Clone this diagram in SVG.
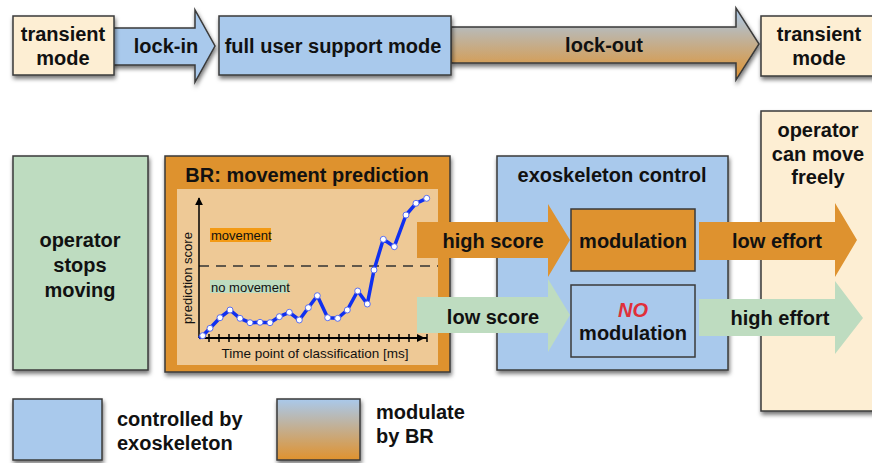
<svg xmlns="http://www.w3.org/2000/svg" width="872" height="463" viewBox="0 0 872 463">
<defs>
<filter id="sh" x="-10%" y="-10%" width="130%" height="130%">
<feDropShadow dx="1" dy="3" stdDeviation="2" flood-color="#000" flood-opacity="0.55"/>
</filter>
<linearGradient id="gr" x1="0" y1="0" x2="0" y2="1">
<stop offset="0" stop-color="#A9C9EC"/>
<stop offset="1" stop-color="#E0922E"/>
</linearGradient>
<marker id="ah" viewBox="0 0 10 10" refX="9" refY="5" markerWidth="8" markerHeight="8" markerUnits="userSpaceOnUse" orient="auto">
<path d="M0,0 L10,5 L0,10 Z" fill="#000"/>
</marker>
</defs>
<style>
text{font-family:"Liberation Sans",Arial,sans-serif;fill:#111}
.b{font-weight:bold;font-size:20px;text-anchor:middle}
.lg{font-weight:bold;font-size:20px}
.box{stroke:#3a3a3a;stroke-width:1.5}
.cream{fill:#FDEED3}
.blue{fill:#A9C9EC}
.orange{fill:#DE922F}
.green{fill:#BEDCC0}
.sm{font-size:13px}
</style>
<rect width="872" height="463" fill="#fff"/>

<g id="connectors">
<polygon id="lock-in" class="box blue" filter="url(#sh)" points="112,28 195,28 195,10 215,46 195,82 195,65 112,65"/>
<polygon id="lock-out" class="box" fill="url(#gr)" filter="url(#sh)" points="451,27 736,27 736,8 759,44 736,80 736,63 451,63"/>
</g>

<g id="transient-left"><rect class="box cream" filter="url(#sh)" x="13" y="16" width="101" height="59"/>
<text class="b" x="63" y="41">transient</text><text class="b" x="63" y="65">mode</text></g>
<text class="b" x="166" y="53">lock-in</text>
<g id="full-user-support"><rect class="box blue" filter="url(#sh)" x="219" y="16" width="232" height="59"/>
<text class="b" x="333" y="53">full user support mode</text></g>
<text class="b" x="604" y="52">lock-out</text>
<g id="transient-right"><rect class="box cream" filter="url(#sh)" x="761" y="16" width="120" height="60"/>
<text class="b" x="819" y="41">transient</text><text class="b" x="819" y="65">mode</text></g>

<g id="operator-stops"><rect class="box green" filter="url(#sh)" x="13" y="156" width="135" height="214"/>
<text class="b" x="80" y="247">operator</text><text class="b" x="80" y="272">stops</text><text class="b" x="80" y="297">moving</text></g>

<g id="br-box"><rect class="box orange" filter="url(#sh)" x="165" y="156" width="285" height="216"/>
<text class="b" x="307" y="182">BR: movement prediction</text>
<rect x="177" y="189" width="261" height="176" fill="#EEC996"/>
<rect x="210" y="228" width="61" height="14" fill="#F39A14"/>
<text class="sm" x="211" y="240">movement</text>
<rect x="210" y="280" width="78" height="13" fill="#BEDCC0"/>
<text class="sm" x="211" y="292">no movement</text>
<line x1="199" y1="266" x2="438" y2="266" stroke="#333" stroke-width="1.3" stroke-dasharray="10,7"/>
<line x1="199" y1="338" x2="199" y2="198" stroke="#000" stroke-width="1.5" marker-end="url(#ah)"/>
<line x1="199" y1="338" x2="427" y2="338" stroke="#000" stroke-width="1.8"/>
<path d="M209,334v8M219,334v8M229,334v8M239,334v8M249,334v8M259,334v8M269,334v8M279,334v8M289,334v8M299,334v8M309,334v8M319,334v8M329,334v8M339,334v8M349,334v8M359,334v8M369,334v8M379,334v8M389,334v8M399,334v8M409,334v8M427,334v8" stroke="#000" stroke-width="1.5"/>
<path d="M417,334 L425,338 L417,342 Z" fill="#000"/>
<text class="sm" x="188" y="278" text-anchor="middle" transform="rotate(-90 188 278)" dy="4">prediction score</text>
<text class="sm" x="315" y="358" text-anchor="middle" style="font-size:13.5px">Time point of classification [ms]</text>
<polyline fill="none" stroke="#1030F0" stroke-width="3.5" stroke-linejoin="round" points="199,338 202.7,335.7 210,328.3 220,317.7 230,310 240,318.3 250,322.7 260,322.3 270,322.7 279.3,316.7 289.3,312.3 299.3,320 308.3,307.7 317.3,295.7 327.7,317.7 337.7,318.3 347.3,310 357.7,291 367.3,304 374,270 383.3,239.3 394.3,246.7 406,215 416,203.3 426.7,198.3"/>
<g fill="#fff" stroke="#5a6ef0" stroke-width="1">
<circle cx="202.7" cy="335.7" r="3"/><circle cx="210" cy="328.3" r="3"/><circle cx="220" cy="317.7" r="3"/><circle cx="230" cy="310" r="3"/><circle cx="240" cy="318.3" r="3"/><circle cx="250" cy="322.7" r="3"/><circle cx="260" cy="322.3" r="3"/><circle cx="270" cy="322.7" r="3"/><circle cx="279.3" cy="316.7" r="3"/><circle cx="289.3" cy="312.3" r="3"/><circle cx="299.3" cy="320" r="3"/><circle cx="308.3" cy="307.7" r="3"/><circle cx="317.3" cy="295.7" r="3"/><circle cx="327.7" cy="317.7" r="3"/><circle cx="337.7" cy="318.3" r="3"/><circle cx="347.3" cy="310" r="3"/><circle cx="357.7" cy="291" r="3"/><circle cx="367.3" cy="304" r="3"/><circle cx="374" cy="270" r="3"/><circle cx="383.3" cy="239.3" r="3"/><circle cx="394.3" cy="246.7" r="3"/><circle cx="406" cy="215" r="3"/><circle cx="416" cy="203.3" r="3"/><circle cx="426.7" cy="198.3" r="3"/>
</g>
</g>

<g id="exo-control"><rect class="box blue" filter="url(#sh)" x="497" y="156" width="231" height="214"/>
<text class="b" x="612" y="182">exoskeleton control</text></g>

<g id="operator-free"><rect class="box cream" filter="url(#sh)" x="761" y="111" width="120" height="300"/>
<text class="b" x="818" y="137">operator</text><text class="b" x="818" y="161">can move</text><text class="b" x="818" y="184">freely</text></g>

<g id="flow-arrows">
<polygon class="orange" points="417,222 548,222 548,204 570,240 548,277 548,258 417,258"/>
<polygon class="green" points="417,297 548,297 548,279 570,315 548,352 548,333 417,333"/>
<polygon class="orange" points="699,222 835,222 835,203 857,240 835,277 835,260 699,260"/>
<polygon class="green" points="699,299 835,299 835,281 863,318 835,354 835,336 699,336"/>
</g>
<text class="b" x="493" y="248">high score</text>
<text class="b" x="493" y="324">low score</text>
<text class="b" x="777" y="248">low effort</text>
<text class="b" x="780" y="325">high effort</text>

<g id="modulation"><rect class="box orange" x="571" y="209" width="124" height="62"/>
<text class="b" x="633" y="248">modulation</text></g>
<g id="no-modulation"><rect class="box blue" x="571" y="285" width="124" height="72"/>
<text class="b" x="633" y="317" style="fill:#E0303A;font-style:italic">NO</text>
<text class="b" x="633" y="340">modulation</text></g>

<g id="legend-exo"><rect class="box blue" filter="url(#sh)" x="13" y="399" width="89" height="61"/>
<text class="lg" x="117" y="426">controlled by</text>
<text class="lg" x="117" y="450">exoskeleton</text></g>
<g id="legend-br"><rect class="box" fill="url(#gr)" filter="url(#sh)" x="277" y="399" width="83" height="61"/>
<text class="lg" x="376" y="419">modulate</text>
<text class="lg" x="376" y="443">by BR</text></g>
</svg>
